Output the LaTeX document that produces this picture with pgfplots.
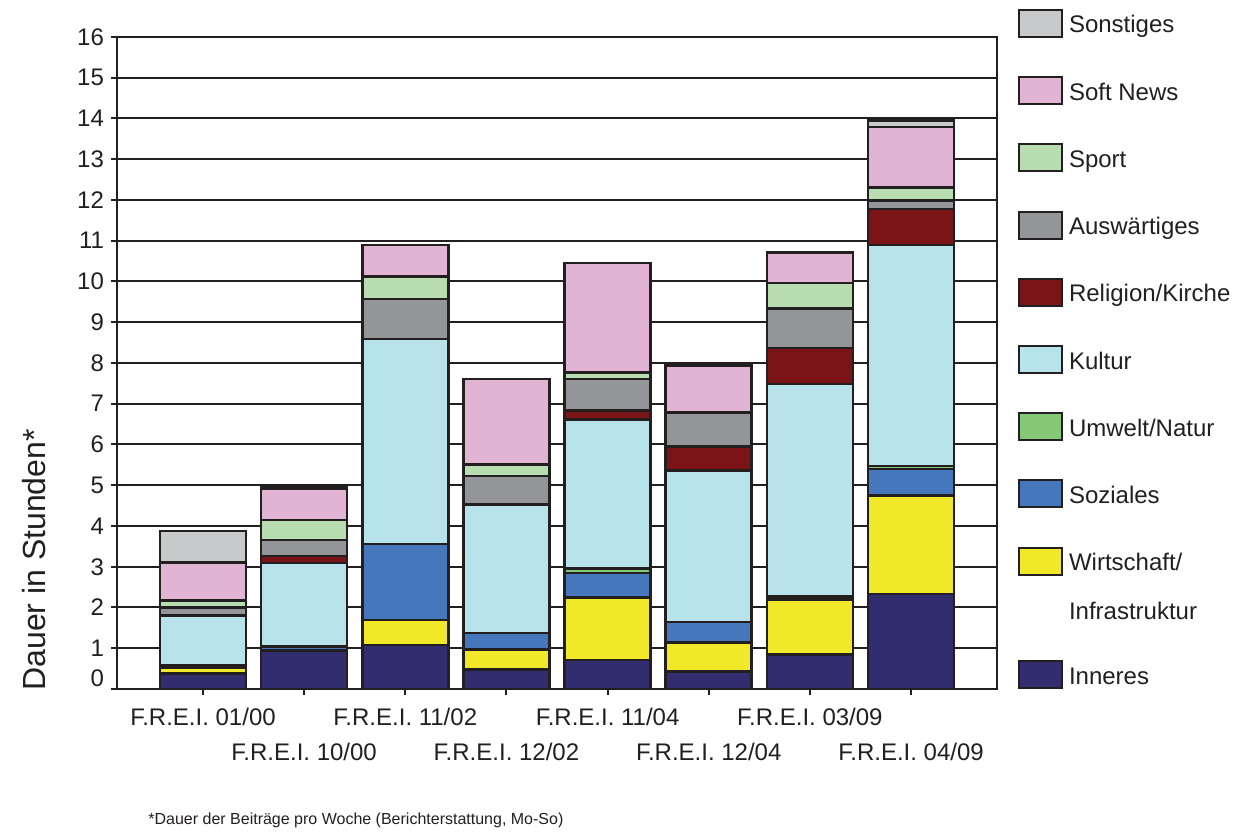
\documentclass[border=0pt]{standalone}
\usepackage{fontspec}
\setmainfont{Liberation Sans}
\usepackage{pgfplots}
\usepackage{pgfplotstable}
\pgfplotsset{compat=1.18}
\definecolor{cInn}{RGB}{50,45,110}
\definecolor{cWir}{RGB}{240,232,40}
\definecolor{cSoz}{RGB}{68,119,187}
\definecolor{cUmw}{RGB}{133,200,120}
\definecolor{cKul}{RGB}{185,227,235}
\definecolor{cRel}{RGB}{123,20,22}
\definecolor{cAus}{RGB}{147,149,152}
\definecolor{cSpo}{RGB}{184,221,176}
\definecolor{cSof}{RGB}{226,180,211}
\definecolor{cSon}{RGB}{200,201,203}
\definecolor{lineclr}{RGB}{35,31,32}
\pgfplotsset{mybox/.style={legend image code/.code={\draw[##1,draw=lineclr,line width=1pt] (0pt,-2pt) rectangle (21.5pt,11.5pt);}}}
\pgfplotstableread{
x inn  wir  soz  umw  kul  rel  aus  spo  sof  son
0 0.38 0.15 0.04 0.00 1.23 0.00 0.20 0.17 0.94 0.77
1 0.94 0.00 0.10 0.00 2.05 0.17 0.40 0.49 0.76 0.04
2 1.08 0.61 1.87 0.00 5.03 0.00 0.98 0.55 0.78 0.00
3 0.48 0.49 0.40 0.00 3.16 0.00 0.70 0.28 2.10 0.00
4 0.71 1.53 0.61 0.11 3.66 0.21 0.78 0.16 2.68 0.00
5 0.43 0.71 0.50 0.00 3.72 0.59 0.84 0.00 1.14 0.03
6 0.85 1.34 0.08 0.00 5.21 0.89 0.97 0.62 0.75 0.00
7 2.33 2.42 0.65 0.07 5.43 0.88 0.21 0.32 1.48 0.16
}\data
\begin{document}
\begin{tikzpicture}
\useasboundingbox (0,0) rectangle (620pt,416.5pt);
\begin{axis}[
  at={(58.5pt,72pt)}, anchor=south west,
  scale only axis, width=440pt, height=326pt,
  ybar stacked, bar width=43pt,
  xmin=-0.85, xmax=7.85, ymin=0, ymax=16,
  xtick={0,2,4,6},
  xticklabels={F.R.E.I. 01/00, F.R.E.I. 11/02, F.R.E.I. 11/04, F.R.E.I. 03/09},
  extra x ticks={1,3,5,7},
  extra x tick labels={F.R.E.I. 10/00, F.R.E.I. 12/02, F.R.E.I. 12/04, F.R.E.I. 04/09},
  extra x tick style={grid=none, xticklabel style={yshift=-17.5pt}},
  ytick={1,...,16},
  extra y ticks={0}, extra y tick labels={0},
  extra y tick style={yticklabel style={yshift=5.5pt}},
  ymajorgrids, grid style={line width=1pt, color=lineclr},
  axis line style={line width=1.3pt, color=lineclr},
  tick style={line width=1pt, color=lineclr},
  tick align=outside, major tick length=3pt,
  tick pos=left,
  /pgf/number format/assume math mode=true,
  tick label style={font=\fontsize{12}{14.4}\selectfont, text=lineclr},
  xticklabel style={yshift=-3pt},
  ylabel={Dauer in Stunden*},
  ylabel style={at={(axis description cs:-0.0943,0.198)}, anchor=center, font=\fontsize{16}{19}\selectfont, text=lineclr},
  legend style={at={(axis description cs:1.0239,1.04294)}, anchor=north west,
    draw=none, fill=none, inner sep=0pt, outer sep=0pt,
    row sep=19.1pt, column sep=3pt,
    cells={anchor=base west},
    nodes={inner sep=0pt, text height=9pt, text depth=2.5pt, font=\fontsize{12}{14.4}\selectfont, text=lineclr}},
  every axis plot/.append style={draw=lineclr, line width=1.3pt},
]
\addplot[fill=cInn, forget plot] table[x=x,y=inn]{\data};
\addplot[fill=cWir, forget plot] table[x=x,y=wir]{\data};
\addplot[fill=cSoz, forget plot] table[x=x,y=soz]{\data};
\addplot[fill=cUmw, forget plot] table[x=x,y=umw]{\data};
\addplot[fill=cKul, forget plot] table[x=x,y=kul]{\data};
\addplot[fill=cRel, forget plot] table[x=x,y=rel]{\data};
\addplot[fill=cAus, forget plot] table[x=x,y=aus]{\data};
\addplot[fill=cSpo, forget plot] table[x=x,y=spo]{\data};
\addplot[fill=cSof, forget plot] table[x=x,y=sof]{\data};
\addplot[fill=cSon, forget plot] table[x=x,y=son]{\data};
\addlegendimage{fill=cSon, mybox}\addlegendentry{Sonstiges}
\addlegendimage{fill=cSof, mybox}\addlegendentry{Soft News}
\addlegendimage{fill=cSpo, mybox}\addlegendentry{Sport}
\addlegendimage{fill=cAus, mybox}\addlegendentry{Auswärtiges}
\addlegendimage{fill=cRel, mybox}\addlegendentry{Religion/Kirche}
\addlegendimage{fill=cKul, mybox}\addlegendentry{Kultur}
\addlegendimage{fill=cUmw, mybox}\addlegendentry{Umwelt/Natur}
\addlegendimage{fill=cSoz, mybox}\addlegendentry{Soziales}
\addlegendimage{fill=cWir, mybox}\addlegendentry[text depth=25.75pt]{\vtop{\hbox{Wirtschaft/}\kern10.2pt\hbox{Infrastruktur}}}
\addlegendimage{fill=cInn, mybox}\addlegendentry{Inneres}
\end{axis}
\node[anchor=west, inner sep=0pt, font=\fontsize{8}{9.6}\selectfont, text=lineclr] at (74pt,6.5pt) {*Dauer der Beiträge pro Woche (Berichterstattung, Mo-So)};
\end{tikzpicture}
\end{document}
